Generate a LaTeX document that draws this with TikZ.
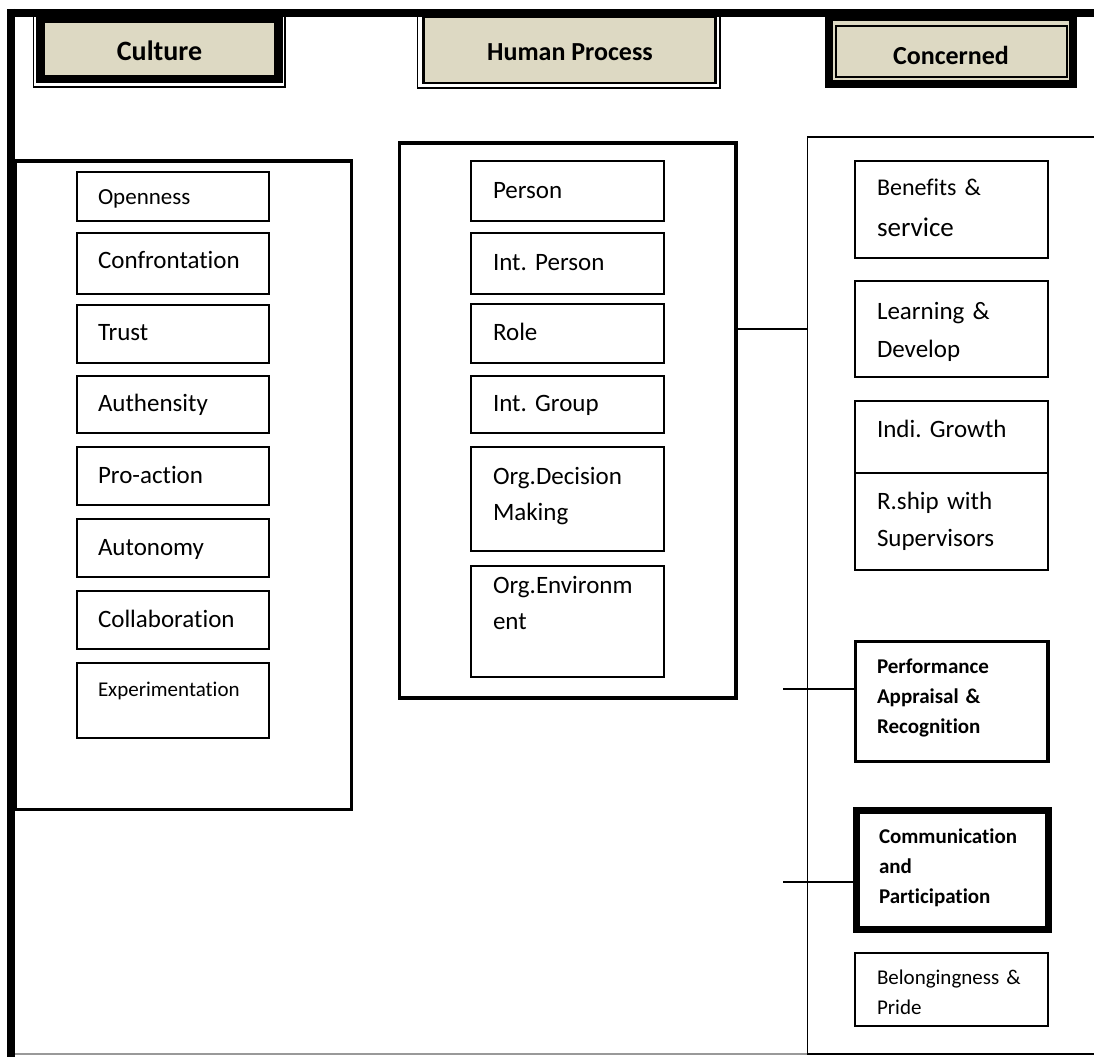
\documentclass[tikz,border=0pt]{standalone}
\usepackage{fontspec}
\setmainfont{Carlito}[Ligatures=NoCommon]
\usetikzlibrary{calc}
\definecolor{hdrfill}{HTML}{DDD9C3}
\tikzset{
  every node/.style={outer sep=0pt},
  itembox/.style={draw=black, line width=1.6pt, rectangle, inner sep=0pt},
  panelbox/.style={draw=black, line width=3.5pt, rectangle, inner sep=0pt},
  txt/.style={anchor=base west, inner sep=0pt, text width=185pt, align=left},
  hdrtxt/.style={inner sep=0pt, font=\bfseries\fontsize{26}{32}\selectfont},
  conn/.style={draw=black, line width=1.5pt},
  thinline/.style={draw=black, line width=1.4pt},
}
\newcommand\bx[6]{\node[#6, minimum width={#4-#2}, minimum height={#5-#3}, anchor=north west] (#1) at (#2,#3) {};}
\newcommand\fs[2]{\fontsize{#1}{#2}\selectfont}
\frenchspacing
\begin{document}
\frenchspacing
\begin{tikzpicture}[x=1pt,y=-1pt]
\useasboundingbox (0,0) rectangle (1094,1057);
\fill[white] (0,0) rectangle (1094,1057);

% ---------- header boxes ----------
\draw[thinline] (33.5,13) -- (33.5,87) -- (285,87) -- (285,13);
\node[draw=black, line width=8.5pt, fill=hdrfill, anchor=north west, inner sep=0pt,
      minimum width=238, minimum height=60] (culhdr) at (40.5,19) {};
\node[hdrtxt, font=\bfseries\fs{28}{34}] (cultxt) at (159.5,51) {Culture};

\draw[thinline] (417.5,13) -- (417.5,88) -- (720,88) -- (720,13);
\node[draw=black, line width=2.5pt, fill=hdrfill, anchor=north west, inner sep=0pt,
      minimum width=292, minimum height=66] (hphdr) at (423.5,17) {};
\node[hdrtxt] (hptxt) at (570,52) {Human Process};

\node[draw=black, line width=8pt, fill=hdrfill, anchor=north west, inner sep=0pt,
      minimum width=244, minimum height=66] (conhdr) at (829,17.5) {};
\node[draw=black, line width=2pt, anchor=north west, inner sep=0pt,
      minimum width=231, minimum height=51] (conin) at (836,26) {};
\node[hdrtxt] (contxt) at (951,55) {Concerned};

% ---------- outer frame ----------
\draw[line width=8pt] (7,13) -- (1094,13);
\draw[line width=8pt] (11,9) -- (11,1057);
\draw[line width=1.2pt, draw=black!40] (15,1054) -- (807.5,1054);

% ---------- panels ----------
\bx{culpanel}{15}{161}{351.5}{809.5}{panelbox}
\bx{hppanel}{399.5}{143}{736}{698}{panelbox}
\draw[line width=1.3pt] (1094,137) -- (807.5,137) -- (807.5,1054) -- (1094,1054);
\coordinate (cpl) at (807.5,329);

% ---------- Culture items ----------
\bx{c1}{77}{172}{269}{221}{itembox}
\bx{c2}{77}{233}{269}{294}{itembox}
\bx{c3}{77}{305}{269}{363}{itembox}
\bx{c4}{77}{376}{269}{433}{itembox}
\bx{c5}{77}{447}{269}{505}{itembox}
\bx{c6}{77}{519}{269}{577}{itembox}
\bx{c7}{77}{591}{269}{649}{itembox}
\bx{c8}{77}{663}{269}{738}{itembox}
\node[txt, font=\fs{23}{28}] (c1t) at (98,204) {Openness};
\node[txt, font=\fs{25}{30}] (c2t) at (98,268.5) {Confrontation};
\node[txt, font=\fs{25}{30}] (c3t) at (98,340.5) {Trust};
\node[txt, font=\fs{25}{30}] (c4t) at (98,411.5) {Authensity};
\node[txt, font=\fs{25}{30}] (c5t) at (98,483.5) {Pro-action};
\node[txt, font=\fs{25}{30}] (c6t) at (98,555.5) {Autonomy};
\node[txt, font=\fs{25}{30}] (c7t) at (98,627.5) {Collaboration};
\node[txt, font=\fs{21}{26}] (c8t) at (98,696.5) {Experimentation};

% ---------- Human Process items ----------
\bx{h1}{471}{161}{664}{221}{itembox}
\bx{h2}{471}{233}{664}{294}{itembox}
\bx{h3}{471}{304}{664}{363}{itembox}
\bx{h4}{471}{376}{664}{433}{itembox}
\bx{h5}{471}{447}{664}{551}{itembox}
\bx{h6}{471}{566}{664}{677}{itembox}
\node[txt, font=\fs{25}{30}] (h1t) at (493,198.5) {Person};
\node[txt, font=\fs{25}{30}] (h2t) at (493,270.5) {Int. Person};
\node[txt, font=\fs{25}{30}] (h3t) at (493,340.5) {Role};
\node[txt, font=\fs{25}{30}] (h4t) at (493,411.5) {Int. Group};
\node[txt, font=\fs{25}{36}] (h5t) at (493,484.5) {Org.Decision\\Making};
\node[txt, font=\fs{25}{36}] (h6t) at (493,593.5) {Org.Environm\\ent};

% ---------- Concerned items ----------
\bx{k1}{855}{161}{1048}{258}{itembox}
\bx{k2}{855}{281}{1048}{377}{itembox}
\bx{k3}{855}{401}{1048}{473}{itembox}
\bx{k4}{855}{473}{1048}{570}{itembox}
\bx{k5}{855.5}{641.5}{1048}{761.5}{itembox, line width=3.2pt}
\bx{k6}{856}{810}{1048.5}{929.5}{itembox, line width=7pt}
\bx{k7}{855}{953}{1048}{1026}{itembox}
\node[txt, font=\fs{24}{41}] (k1t) at (877,195) {Benefits \&\\{\fs{27}{41}service}};
\node[txt, font=\fs{25}{38}] (k2t) at (877,319.5) {Learning \&\\Develop};
\node[txt, font=\fs{25}{30}] (k3t) at (877,437.5) {Indi. Growth};
\node[txt, font=\fs{25}{37}] (k4t) at (877,509.5) {R.ship with\\Supervisors};
\node[txt, font=\bfseries\fs{21}{30}] (k5t) at (877,673.5) {Performance\\Appraisal \&\\Recognition};
\node[txt, font=\bfseries\fs{21}{30}] (k6t) at (879,843.5) {Communication\\and\\Participation};
\node[txt, font=\fs{21}{30}] (k7t) at (877,984.5) {Belongingness \&\\Pride};

% ---------- connectors ----------
\draw[conn] (hppanel.east |- cpl) -- (cpl);
\coordinate (pa) at (783,689);
\coordinate (pb) at (783,882);
\draw[conn] (pa) -- (k5.west |- pa);
\draw[conn] (pb) -- (k6.west |- pb);
\end{tikzpicture}
\end{document}
